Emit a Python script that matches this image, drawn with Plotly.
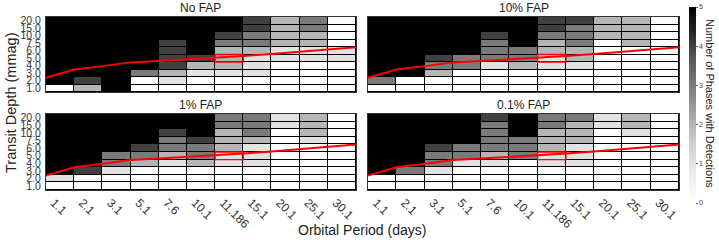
import plotly.graph_objects as go

periods = ["1.1", "2.1", "3.1", "5.1", "7.6", "10.1", "11.186", "15.1", "20.1", "25.1", "30.1"]
depths = ["1.0", "2.0", "3.0", "4.0", "5.0", "6.0", "7.5", "10.0", "15.0", "20.0"]

# rows listed from top (20.0) down to bottom (1.0)
no_fap = [
    [5, 5, 5, 5, 5, 5, 5, 4, 2, 3, 0],
    [5, 5, 5, 5, 5, 5, 5, 4, 2, 3, 0],
    [5, 5, 5, 5, 5, 5, 4, 3, 2, 2, 0],
    [5, 5, 5, 5, 4, 5, 3, 3, 2, 2, 0],
    [5, 5, 5, 5, 4, 5, 2, 2, 1, 1, 1],
    [5, 5, 5, 5, 4, 4, 2, 1, 1, 1, 1],
    [5, 5, 5, 5, 4, 2, 2, 1, 0, 0, 0],
    [5, 5, 5, 3, 2, 1, 1, 1, 0, 0, 0],
    [5, 4, 5, 0, 1, 0, 0, 0, 0, 0, 0],
    [0, 2, 5, 0, 0, 0, 0, 0, 0, 0, 0],
]
fap_10 = [
    [5, 5, 5, 5, 5, 5, 4, 4, 2, 2, 0],
    [5, 5, 5, 5, 5, 5, 4, 3, 2, 2, 0],
    [5, 5, 5, 5, 4, 5, 3, 3, 2, 2, 0],
    [5, 5, 5, 5, 3, 5, 2, 3, 0, 2, 0],
    [5, 5, 5, 5, 3, 3, 2, 2, 0, 0, 0],
    [5, 5, 4, 3, 3, 3, 1, 2, 0, 0, 0],
    [5, 5, 3, 3, 1, 2, 1, 1, 0, 0, 0],
    [5, 5, 2, 0, 0, 0, 0, 0, 0, 0, 0],
    [3, 0, 0, 0, 0, 0, 0, 0, 0, 0, 0],
    [0, 0, 0, 0, 0, 0, 0, 0, 0, 0, 0],
]
fap_1 = [
    [5, 5, 5, 5, 5, 5, 3, 3, 1, 2, 0],
    [5, 5, 5, 5, 5, 5, 3, 3, 1, 2, 0],
    [5, 5, 5, 5, 4, 5, 2, 3, 0, 2, 0],
    [5, 5, 5, 5, 3, 4, 2, 2, 0, 1, 0],
    [5, 5, 5, 4, 3, 3, 2, 1, 0, 0, 0],
    [5, 5, 3, 3, 2, 3, 1, 1, 0, 0, 0],
    [5, 5, 3, 2, 1, 2, 1, 1, 0, 0, 0],
    [5, 4, 1, 0, 0, 0, 0, 0, 0, 0, 0],
    [1, 0, 0, 0, 0, 0, 0, 0, 0, 0, 0],
    [0, 0, 0, 0, 0, 0, 0, 0, 0, 0, 0],
]
fap_01 = [
    [5, 5, 5, 5, 4, 5, 3, 3, 1, 2, 0],
    [5, 5, 5, 5, 3, 5, 3, 2, 1, 2, 0],
    [5, 5, 5, 5, 3, 5, 2, 2, 0, 1, 0],
    [5, 5, 5, 5, 3, 3, 2, 2, 0, 0, 0],
    [5, 5, 4, 3, 3, 3, 2, 1, 0, 0, 0],
    [5, 5, 3, 3, 2, 3, 1, 1, 0, 0, 0],
    [5, 5, 3, 1, 1, 0, 1, 1, 0, 0, 0],
    [5, 3, 1, 0, 0, 0, 0, 0, 0, 0, 0],
    [0, 0, 0, 0, 0, 0, 0, 0, 0, 0, 0],
    [0, 0, 0, 0, 0, 0, 0, 0, 0, 0, 0],
]

# detection-limit curve, in row-index units at the column edges
line_x = [-0.5, 0.5, 1.5, 2.5, 3.5, 4.5, 5.5, 6.5, 7.5, 8.5, 9.5, 10.5]
line_y = [1.4, 2.5, 2.95, 3.45, 3.63, 3.83, 4.05, 4.3, 4.58, 4.9, 5.2, 5.48]
# highlighted cell (11.186 d, 5.0 mmag)
box_col, box_row = 6, 4

titles = ["No FAP", "10% FAP", "1% FAP", "0.1% FAP"]
grids = [no_fap, fap_10, fap_1, fap_01]

W, H = 719, 243
xdom = [[46 / W, 356 / W], [368 / W, 679 / W]]
ydom = [[1 - 92 / H, 1 - 17 / H], [1 - 190 / H, 1 - 114 / H]]

greys = [
    [0.0, "#ffffff"], [0.125, "#f0f0f0"], [0.25, "#d9d9d9"], [0.375, "#bdbdbd"],
    [0.5, "#969696"], [0.625, "#737373"], [0.75, "#525252"], [0.875, "#252525"],
    [1.0, "#000000"],
]

fig = go.Figure()
layout = dict(
    template="none",
    width=W, height=H, margin=dict(l=0, r=0, t=0, b=0, autoexpand=False),
    paper_bgcolor="white", plot_bgcolor="black",
    font=dict(family="Liberation Sans, Arial, sans-serif", color="#222"),
    showlegend=False,
    coloraxis=dict(
        cmin=0, cmax=5, colorscale=greys,
        colorbar=dict(
            x=689 / W, xanchor="left", xpad=0, y=1 - 7 / H, yanchor="top", ypad=0,
            len=196 / H, lenmode="fraction", thickness=7, outlinewidth=0,
            tickvals=[0, 1, 2, 3, 4, 5], ticks="outside", ticklen=2,
            tickcolor="#666", tickfont=dict(size=7, color="#444"),
        ),
    ),
)

annotations = []
shapes = []
for i in range(4):
    r, c = divmod(i, 2)
    n = i + 1
    xa = "x" if n == 1 else f"x{n}"
    ya = "y" if n == 1 else f"y{n}"
    z = grids[i][::-1]
    fig.add_trace(go.Heatmap(
        z=z, x=list(range(len(periods))), y=list(range(len(depths))),
        coloraxis="coloraxis", xgap=1, ygap=1, xaxis=xa, yaxis=ya,
        hoverinfo="skip",
    ))
    fig.add_trace(go.Scatter(
        x=line_x, y=line_y, mode="lines", line=dict(color="#ff0000", width=2),
        xaxis=xa, yaxis=ya, hoverinfo="skip",
    ))
    shapes.append(dict(type="rect", xref=xa, yref=ya,
                       x0=box_col - 0.5, x1=box_col + 0.5,
                       y0=box_row - 0.5, y1=box_row + 0.5,
                       line=dict(color="#ff0000", width=1.3)))
    xkey = "xaxis" if n == 1 else f"xaxis{n}"
    ykey = "yaxis" if n == 1 else f"yaxis{n}"
    layout[xkey] = dict(
        domain=xdom[c], anchor=ya, range=[-0.5, 10.5], automargin=False,
        tickvals=list(range(len(periods))), ticktext=periods,
        showticklabels=(r == 1), tickangle=45, ticks="",
        tickfont=dict(size=12, color="#333"), ticklabelshift=-6,
        showgrid=False, zeroline=False, showline=True, mirror=True,
        linecolor="#333", linewidth=1,
    )
    layout[ykey] = dict(
        domain=ydom[r], anchor=xa, range=[-0.5, 9.5], automargin=False,
        tickvals=list(range(len(depths))), ticktext=depths,
        showticklabels=(c == 0), ticks="",
        tickfont=dict(size=10.5, color="#333"), ticklabelstandoff=2,
        showgrid=False, zeroline=False, showline=True, mirror=True,
        linecolor="#333", linewidth=1,
    )
    cx = (xdom[c][0] + xdom[c][1]) / 2
    annotations.append(dict(text=titles[i], x=cx, y=ydom[r][1], xref="paper", yref="paper",
                            xanchor="center", yanchor="bottom", yshift=0, showarrow=False,
                            font=dict(size=12, color="#222")))

annotations.append(dict(text="Orbital Period (days)", x=362 / W, y=1 - 230 / H,
                        xref="paper", yref="paper", xanchor="center", yanchor="middle",
                        showarrow=False, font=dict(size=14, color="#222")))
annotations.append(dict(text="Transit Depth (mmag)", x=11 / W, y=1 - 103 / H,
                        xref="paper", yref="paper", xanchor="center", yanchor="middle",
                        textangle=-90, showarrow=False, font=dict(size=14.5, color="#222")))
annotations.append(dict(text="Number of Phases with Detections", x=710 / W, y=1 - 103 / H,
                        xref="paper", yref="paper", xanchor="center", yanchor="middle",
                        textangle=90, showarrow=False, font=dict(size=11, color="#222")))

layout["annotations"] = annotations
layout["shapes"] = shapes
fig.update_layout(**layout)
fig.write_html(
    "out.html",
    config={"displayModeBar": False, "staticPlot": True},
    post_script="document.body.style.margin='0';document.body.style.overflow='hidden';",
)
